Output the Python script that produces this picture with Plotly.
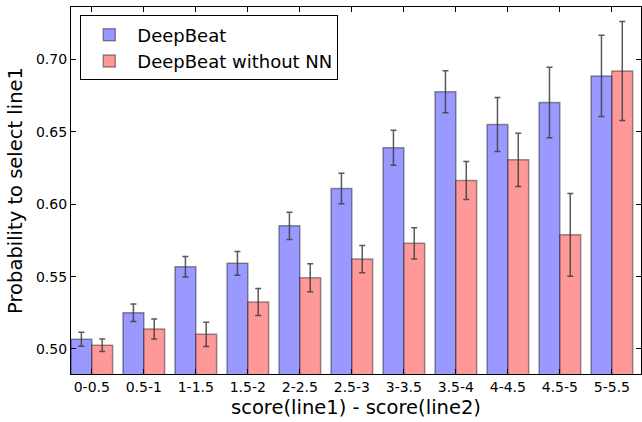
import plotly.graph_objects as go

categories = ["0-0.5", "0.5-1", "1-1.5", "1.5-2", "2-2.5", "2.5-3",
              "3-3.5", "3.5-4", "4-4.5", "4.5-5", "5-5.5"]
deepbeat = [0.5067, 0.5250, 0.5568, 0.5592, 0.5851, 0.6109,
            0.6390, 0.6778, 0.6551, 0.6703, 0.6887]
deepbeat_err = [0.0048, 0.0060, 0.0071, 0.0082, 0.0094, 0.0105,
                0.0121, 0.0145, 0.0187, 0.0243, 0.0281]
no_nn = [0.5026, 0.5138, 0.5101, 0.5324, 0.5492, 0.5621,
         0.5730, 0.6164, 0.6307, 0.5789, 0.6921]
no_nn_err = [0.0043, 0.0069, 0.0084, 0.0093, 0.0097, 0.0094,
             0.0108, 0.0132, 0.0184, 0.0286, 0.0342]

bar_w = 0.4
idx = list(range(len(categories)))
x_blue = [i + bar_w / 2 for i in idx]
x_red = [i + bar_w * 1.5 for i in idx]
tick_pos = [i + bar_w for i in idx]

FONT = "DejaVu Sans"
edge = dict(color="rgba(0,0,0,0.4)", width=1.5)
err_style = dict(type="data", visible=True, color="rgba(60,60,60,0.85)",
                 thickness=1.5, width=3)

fig = go.Figure()
fig.add_trace(go.Bar(
    x=x_blue, y=deepbeat, width=bar_w, name="DeepBeat",
    marker=dict(color="#9999ff", line=edge),
    error_y=dict(array=deepbeat_err, **err_style),
))
fig.add_trace(go.Bar(
    x=x_red, y=no_nn, width=bar_w, name="DeepBeat without NN",
    marker=dict(color="#ff9999", line=edge),
    error_y=dict(array=no_nn_err, **err_style),
))

axis_common = dict(showline=True, linecolor="black", linewidth=1.2, mirror="ticks",
                   ticks="inside", ticklen=5, tickcolor="black", tickwidth=1,
                   showgrid=False, zeroline=False,
                   tickfont=dict(family=FONT, size=14, color="black"))

fig.update_layout(
    width=642, height=422,
    margin=dict(l=71, r=1, t=7, b=48),
    paper_bgcolor="white", plot_bgcolor="white",
    barmode="overlay",
    font=dict(family=FONT, color="black"),
    xaxis=dict(range=[0, 10.96], tickvals=tick_pos, ticktext=categories,
               title=dict(text="score(line1) - score(line2)",
                          font=dict(family=FONT, size=19.5), standoff=6),
               **axis_common),
    yaxis=dict(range=[0.4827, 0.7363], tickvals=[0.50, 0.55, 0.60, 0.65, 0.70],
               tickformat=".2f",
               title=dict(text="Probability to select line1",
                          font=dict(family=FONT, size=19.5), standoff=8),
               **axis_common),
    legend=dict(x=0.0163, y=0.977, xanchor="left", yanchor="top",
                bordercolor="black", borderwidth=1, bgcolor="white",
                font=dict(family=FONT, size=18), tracegroupgap=0,
                itemwidth=46),
    showlegend=True,
)

fig.write_html("out.html", config={"displayModeBar": False},
               post_script="document.body.style.margin='0';document.body.style.padding='0';")
